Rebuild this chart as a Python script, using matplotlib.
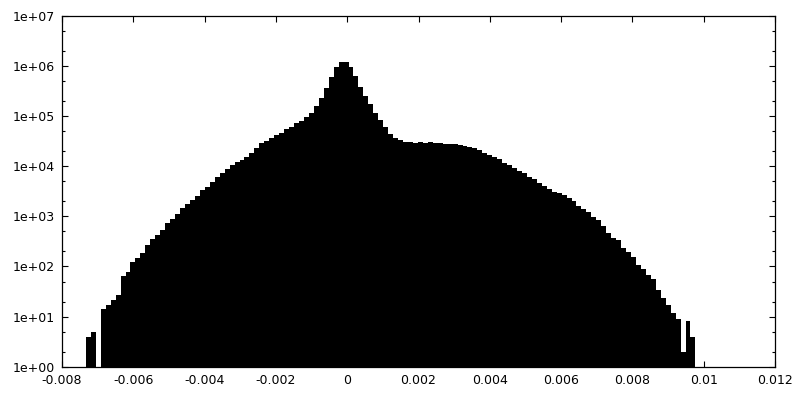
import matplotlib
matplotlib.use("Agg")
import matplotlib.pyplot as plt
import numpy as np
from matplotlib.ticker import FixedLocator, NullLocator, LogLocator, NullFormatter

# histogram: left edge of first bin, bin width, counts per bin
bin_lo = -0.00733
bin_w = 0.000139
counts = [
    4, 5, 0, 14, 17, 21, 27, 65, 78, 123,
    151, 189, 269, 349, 426, 536, 728, 888, 1117, 1452,
    1770, 2125, 2555, 3366, 3918, 4863, 6032, 7249, 8712, 10620,
    11910, 13360, 15560, 18170, 22880, 28790, 32450, 36250, 42170, 46890,
    54800, 61700, 72200, 81300, 97700, 117500, 159900, 227600, 370400, 614000,
    972500, 1224000, 1224000, 972500, 643000, 388000, 253000, 172600, 114300, 84000,
    61700, 44150, 36250, 32730, 30130, 30130, 29580, 30970, 29580, 30970,
    29580, 28790, 28260, 27870, 27490, 26610, 25760, 24600, 23500, 21140,
    18680, 16820, 15560, 13800, 11800, 10620, 9380, 8170, 7250, 6200,
    5500, 4710, 4045, 3474, 3112, 2891, 2673, 2297, 2029, 1613,
    1405, 1207, 986, 847, 643, 473, 376, 338, 231, 197,
    153, 107, 89, 68, 55, 34, 23, 17, 12, 9,
    2, 8, 4,
]

xticks = [-0.008, -0.006, -0.004, -0.002, 0, 0.002, 0.004, 0.006, 0.008, 0.01, 0.012]
xtick_labels = ['-0.008', '-0.006', '-0.004', '-0.002', '0', '0.002', '0.004',
                '0.006', '0.008', '0.01', '0.012']
yticks = [1e0, 1e1, 1e2, 1e3, 1e4, 1e5, 1e6, 1e7]
ytick_labels = ['1e+00', '1e+01', '1e+02', '1e+03', '1e+04', '1e+05', '1e+06', '1e+07']

fig = plt.figure(figsize=(8, 4), dpi=100)
ax = fig.add_axes([0.0775, 0.0833, 0.8913, 0.8767])
ax.set_yscale('log')

edges = bin_lo + bin_w * np.arange(len(counts))
ax.bar(edges, counts, width=bin_w, align='edge', color='black',
       linewidth=0, antialiased=False)

ax.set_xlim(-0.008, 0.012)
ax.set_ylim(1, 1e7)

ax.xaxis.set_major_locator(FixedLocator(xticks))
ax.set_xticklabels(xtick_labels)
ax.xaxis.set_minor_locator(NullLocator())
ax.yaxis.set_major_locator(FixedLocator(yticks))
ax.set_yticklabels(ytick_labels)
ax.yaxis.set_minor_locator(LogLocator(base=10, subs=(2.0, 5.0)))
ax.yaxis.set_minor_formatter(NullFormatter())

ax.tick_params(which='both', direction='in', top=True, right=True,
               width=0.8, labelsize=9, colors='black', pad=5)
ax.tick_params(which='major', length=4)
ax.tick_params(which='minor', length=2)
for s in ax.spines.values():
    s.set_linewidth(0.9)

fig.savefig('out.png', dpi=100)
